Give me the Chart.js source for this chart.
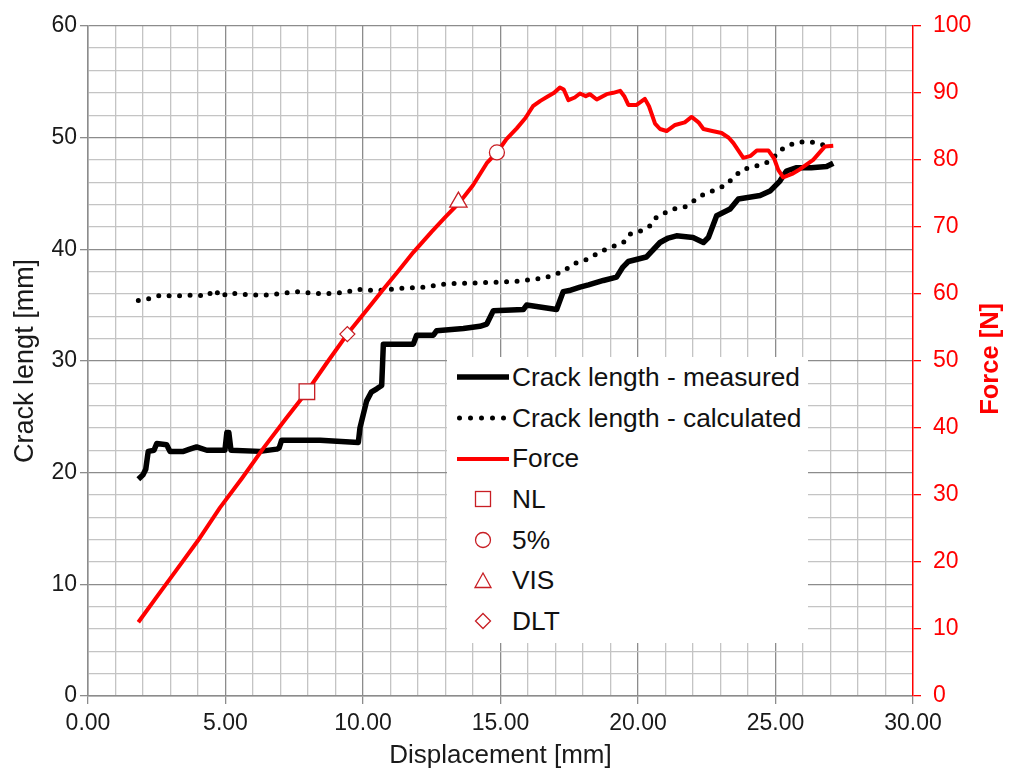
<!DOCTYPE html>
<html>
<head>
<meta charset="utf-8">
<script src="https://cdn.jsdelivr.net/npm/chart.js@4"></script>
<style>
  body { margin: 0; background: #fff; }
  #wrap { position: relative; width: 1014px; height: 778px; }
  #legend {
    position: absolute; left: 447px; top: 357px; width: 361px; height: 286px;
    background: #fff; color: #111;
    font-family: 'Liberation Sans', Arial, sans-serif; font-size: 26.3px;
  }
  .row { display: flex; align-items: center; height: 40.7px; white-space: nowrap; }
  .row svg { margin-left: 10px; margin-right: 3px; flex: none; }
</style>
</head>
<body>
<div id="wrap">
  <canvas id="crackChart" width="1014" height="778"></canvas>
  <div id="legend"></div>
</div>
<script>
// displacement [mm] vs crack length [mm]
const dispMeasured = [1.83, 2.0, 2.1, 2.19, 2.4, 2.5, 2.86, 2.98, 3.47, 3.7, 3.95, 4.32, 4.56, 4.98, 5.05, 5.12, 5.2, 6.25, 6.86, 6.95, 7.04, 8.44, 9.83, 9.89, 10.13, 10.3, 10.5, 10.68, 10.74, 11.28, 11.83, 11.95, 12.56, 12.68, 13.65, 14.25, 14.5, 14.74, 15.83, 15.95, 17.04, 17.28, 17.5, 17.89, 18.2, 18.74, 19.22, 19.45, 19.65, 20.3, 20.8, 21.1, 21.4, 22.0, 22.38, 22.56, 22.86, 23.35, 23.65, 24.44, 24.8, 25.16, 25.4, 25.77, 26.3, 26.86, 27.1];
const crackMeasured = [19.4, 19.8, 20.3, 21.9, 22.0, 22.6, 22.5, 21.9, 21.9, 22.1, 22.3, 22.0, 22.0, 22.0, 23.6, 23.6, 22.0, 21.9, 22.1, 22.2, 22.9, 22.9, 22.7, 24.0, 26.4, 27.2, 27.5, 27.8, 31.5, 31.5, 31.5, 32.3, 32.3, 32.7, 32.9, 33.1, 33.3, 34.5, 34.6, 35.0, 34.6, 36.2, 36.3, 36.6, 36.8, 37.2, 37.5, 38.4, 38.9, 39.3, 40.6, 41.0, 41.2, 41.05, 40.6, 41.05, 43.0, 43.6, 44.5, 44.8, 45.2, 46.1, 47.0, 47.3, 47.3, 47.4, 47.7];

const dispCalculated = [1.83, 2.19, 2.68, 3.1, 3.95, 4.32, 4.62, 4.82, 5.1, 5.9, 6.5, 7.6, 8.5, 9.4, 9.77, 10.5, 11.35, 12.2, 13.04, 14.3, 15.47, 16.56, 17.28, 17.65, 18.0, 18.74, 19.04, 19.47, 19.71, 20.07, 20.44, 20.68, 21.28, 21.71, 22.38, 22.8, 23.16, 23.47, 23.77, 24.19, 24.56, 24.86, 25.16, 25.53, 25.89, 26.3, 26.68, 27.04];
const crackCalculated = [35.4, 35.55, 35.9, 35.8, 35.9, 35.8, 36.4, 35.7, 36.1, 35.9, 35.9, 36.2, 36.0, 36.15, 36.4, 36.3, 36.5, 36.6, 36.9, 37.0, 37.1, 37.4, 38.0, 38.7, 38.9, 39.9, 40.2, 40.6, 41.35, 41.6, 42.1, 42.9, 43.6, 43.8, 44.9, 45.3, 45.7, 46.4, 47.1, 47.4, 47.6, 48.0, 48.85, 49.35, 49.6, 49.6, 49.35, 49.35];

// displacement [mm] vs force [N]
const dispForce = [1.83, 2.5, 3.2, 4.0, 4.8, 5.6, 6.4, 7.2, 7.96, 8.7, 9.43, 10.1, 10.74, 11.3, 11.83, 12.5, 13.0, 13.5, 14.0, 14.5, 14.87, 15.2, 15.59, 15.9, 16.18, 16.45, 16.7, 16.95, 17.16, 17.3, 17.47, 17.7, 17.89, 18.1, 18.25, 18.5, 18.86, 19.1, 19.35, 19.5, 19.65, 19.95, 20.25, 20.4, 20.62, 20.8, 21.04, 21.35, 21.7, 21.95, 22.2, 22.38, 22.7, 23.04, 23.3, 23.47, 23.83, 24.1, 24.32, 24.74, 24.95, 25.1, 25.28, 25.6, 25.89, 26.37, 26.8, 27.1];
const force = [11.0, 14.8, 18.7, 23.2, 28.1, 32.5, 37.1, 41.4, 45.4, 49.8, 54.0, 57.4, 60.7, 63.5, 66.2, 69.3, 71.5, 73.6, 76.2, 79.5, 81.1, 83.0, 84.7, 86.2, 88.0, 88.8, 89.4, 90.0, 90.8, 90.5, 88.9, 89.3, 89.9, 89.5, 89.8, 89.0, 89.8, 90.0, 90.3, 89.5, 88.2, 88.2, 89.1, 88.0, 85.4, 84.6, 84.3, 85.2, 85.6, 86.4, 85.6, 84.6, 84.3, 84.0, 83.3, 82.5, 80.3, 80.6, 81.4, 81.4, 80.2, 78.5, 77.4, 77.9, 78.6, 80.0, 82.0, 82.1];

// onset points on the force curve
const markerLabels = ['NL', '5%', 'VIS', 'DLT'];
const markerDisp = [7.96, 14.87, 13.47, 9.43];
const markerForce = [45.4, 81.1, 73.7, 54.0];

const seriesLabels = ['Crack length - measured', 'Crack length - calculated', 'Force'];

const FONT = "'Liberation Sans', Arial, sans-serif";
const RED = '#ff0000';
const MARK = '#c81e24';
const GRID_MAJOR = '#8c8c8c';
const GRID_MINOR = '#c4c4c4';

const shapeFor = { 'NL': 'rect', '5%': 'circle', 'VIS': 'triangle', 'DLT': 'rectRot' };
const radiusFor = { rect: 11, circle: 7.5, triangle: 10, rectRot: 7.5 };

const pts = (xs, ys) => xs.map((x, i) => ({ x: x, y: ys[i] }));

const datasets = [
    {
        label: seriesLabels[0],
        data: pts(dispMeasured, crackMeasured),
        yAxisID: 'y',
        borderColor: '#000',
        borderWidth: 5.5,
        borderJoinStyle: 'round',
        pointRadius: 0,
        order: 3
    },
    {
        label: seriesLabels[1],
        data: pts(dispCalculated, crackCalculated),
        yAxisID: 'y',
        borderColor: '#000',
        borderWidth: 5,
        borderDash: [0, 10.5],
        borderCapStyle: 'round',
        pointRadius: 0,
        order: 4
    },
    {
        label: seriesLabels[2],
        data: pts(dispForce, force),
        yAxisID: 'yForce',
        borderColor: RED,
        borderWidth: 4,
        borderJoinStyle: 'round',
        pointRadius: 0,
        order: 2
    }
];

markerLabels.forEach((name, i) => {
    const shape = shapeFor[name];
    datasets.push({
        label: name,
        data: [{ x: markerDisp[i], y: markerForce[i] }],
        yAxisID: 'yForce',
        showLine: false,
        pointStyle: shape,
        pointRadius: radiusFor[shape],
        pointBackgroundColor: '#fff',
        pointBorderColor: MARK,
        pointBorderWidth: 1.3,
        order: 1
    });
});

// "Force [N]" reads bottom-to-top, chart.js would rotate the right title the other way
const forceTitle = {
    id: 'forceTitle',
    afterDraw(chart) {
        const { ctx, chartArea } = chart;
        const scale = chart.scales.yForce;
        ctx.save();
        ctx.translate(scale.right - 23, (chartArea.top + chartArea.bottom) / 2 - 2);
        ctx.rotate(-Math.PI / 2);
        ctx.font = 'bold 25.5px ' + FONT;
        ctx.fillStyle = RED;
        ctx.textAlign = 'center';
        ctx.textBaseline = 'middle';
        ctx.fillText('Force [N]', 0, 0);
        ctx.restore();
    }
};

Chart.defaults.font.family = FONT;
Chart.defaults.color = '#1a1a1a';

const ctx = document.getElementById('crackChart').getContext('2d');
const chart = new Chart(ctx, {
    type: 'line',
    data: { datasets: datasets },
    options: {
        responsive: false,
        maintainAspectRatio: false,
        animation: false,
        layout: { padding: { top: 22, left: 0, right: 0, bottom: 0 } },
        plugins: {
            legend: { display: false },
            tooltip: { enabled: false }
        },
        scales: {
            x: {
                type: 'linear',
                min: 0,
                max: 30,
                afterFit: scale => { scale.height = 82; },
                ticks: {
                    stepSize: 1,
                    autoSkip: false,
                    maxRotation: 0,
                    padding: 6,
                    font: { size: 23 },
                    callback: v => (v % 5 === 0 ? v.toFixed(2) : '')
                },
                grid: {
                    color: c => (c.tick && c.tick.value === 30 ? 'rgba(0,0,0,0)' : (c.tick && c.tick.value % 5 === 0 ? GRID_MAJOR : GRID_MINOR)),
                    tickColor: c => (c.tick && c.tick.value % 5 === 0 ? GRID_MAJOR : 'rgba(0,0,0,0)'),
                    lineWidth: 1.3,
                    tickLength: 8
                },
                border: { color: GRID_MAJOR, width: 1.5 },
                title: {
                    display: true,
                    text: 'Displacement [mm]',
                    font: { size: 26 },
                    padding: { top: 0, bottom: 7 }
                }
            },
            y: {
                position: 'left',
                min: 0,
                max: 60,
                afterFit: scale => { scale.width = 88; },
                ticks: {
                    stepSize: 2,
                    autoSkip: false,
                    padding: 3,
                    font: { size: 23 },
                    callback: v => (v % 10 === 0 ? v : '')
                },
                grid: {
                    color: c => (c.tick && c.tick.value % 10 === 0 ? GRID_MAJOR : GRID_MINOR),
                    tickColor: c => (c.tick && c.tick.value % 10 === 0 ? GRID_MAJOR : 'rgba(0,0,0,0)'),
                    lineWidth: 1.3,
                    tickLength: 8
                },
                border: { color: GRID_MAJOR, width: 1.5 },
                title: {
                    display: true,
                    text: 'Crack lengt [mm]',
                    font: { size: 27 },
                    padding: { top: 9, bottom: 0 }
                }
            },
            yForce: {
                position: 'right',
                min: 0,
                max: 100,
                afterFit: scale => { scale.width = 101; },
                ticks: {
                    stepSize: 10,
                    padding: 12,
                    color: RED,
                    font: { size: 23 }
                },
                grid: {
                    drawOnChartArea: false,
                    color: RED,
                    tickLength: 8,
                    lineWidth: 1.3
                },
                border: { color: RED, width: 1.5 }
            }
        }
    },
    plugins: [forceTitle]
});

// legend box sits inside the plot, over the grid
function sampleSvg(ds) {
    const svg = (inner) => '<svg width="52" height="24" viewBox="0 0 52 24">' + inner + '</svg>';
    if (ds.showLine === false) {
        const s = 'fill="#fff" stroke="' + MARK + '" stroke-width="1.3"';
        switch (ds.pointStyle) {
            case 'rect': return svg('<rect x="18.5" y="4.5" width="15" height="15" ' + s + '/>');
            case 'circle': return svg('<circle cx="26" cy="12" r="7.5" ' + s + '/>');
            case 'triangle': return svg('<polygon points="26,4 34,18.5 18,18.5" ' + s + '/>');
            default: return svg('<polygon points="26,4.5 33.5,12 26,19.5 18.5,12" ' + s + '/>');
        }
    }
    const dash = ds.borderDash ? ' stroke-dasharray="0 11" stroke-linecap="round"' : '';
    return svg('<line x1="' + (ds.borderDash ? 2.5 : 0) + '" y1="12" x2="52" y2="12" stroke="' + ds.borderColor + '" stroke-width="' + ds.borderWidth + '"' + dash + '/>');
}

const legendEl = document.getElementById('legend');
chart.data.datasets.forEach(ds => {
    const row = document.createElement('div');
    row.className = 'row';
    row.innerHTML = sampleSvg(ds) + '<span>' + ds.label + '</span>';
    legendEl.appendChild(row);
});
</script>
</body>
</html>
